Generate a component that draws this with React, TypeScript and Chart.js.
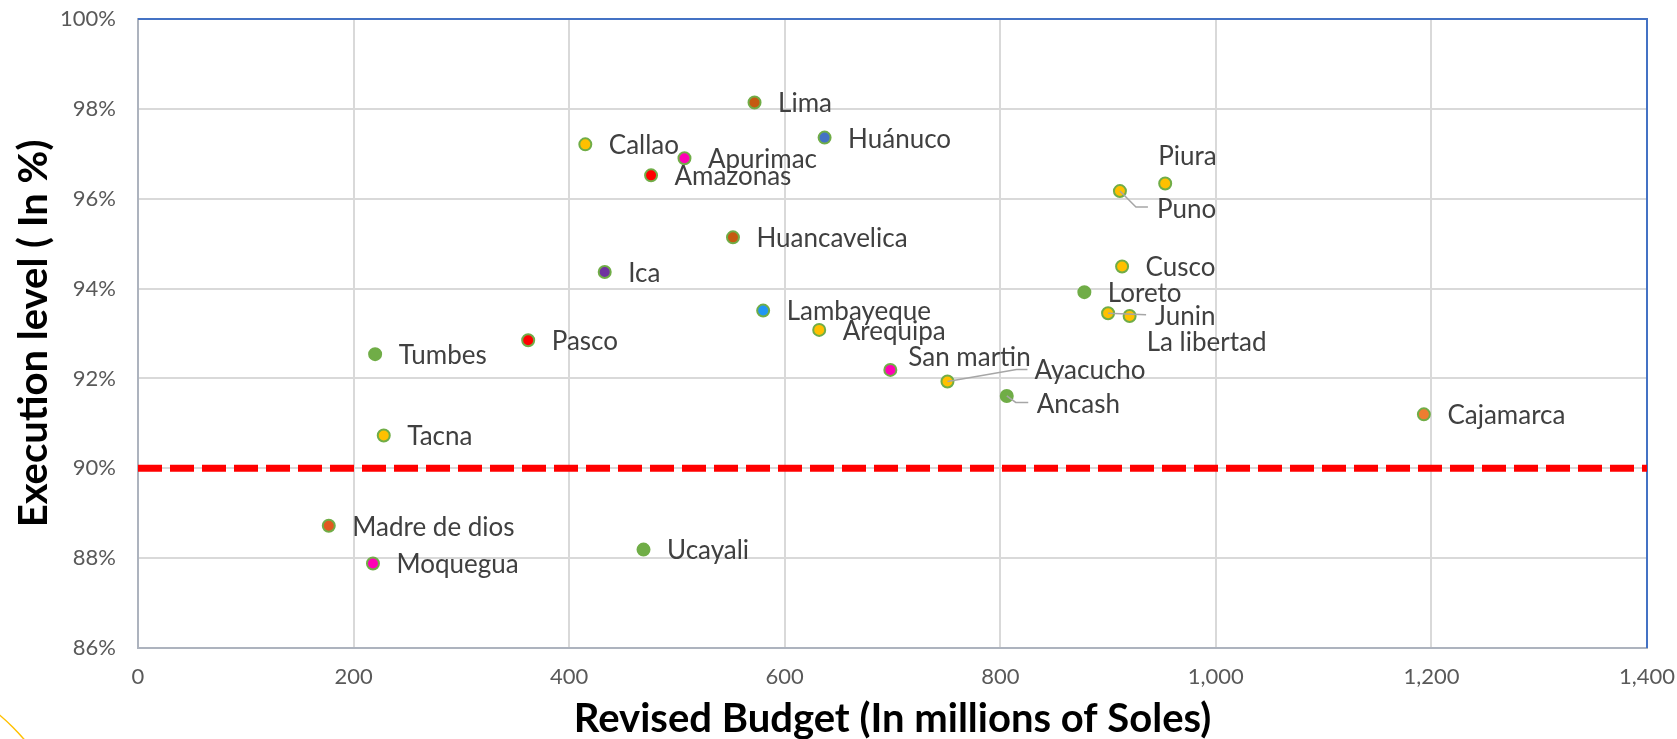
import React, { useEffect, useRef } from 'react';
import { Chart, registerables } from 'chart.js';

Chart.register(...registerables);

// ---------- data ----------
const regions = [
  'Lima', 'Callao', 'Apurimac', 'Amazonas', 'Huánuco', 'Huancavelica', 'Ica',
  'Lambayeque', 'Arequipa', 'San martin', 'Ayacucho', 'Ancash', 'Piura', 'Puno',
  'Cusco', 'Loreto', 'Junin', 'La libertad', 'Tumbes', 'Pasco', 'Tacna',
  'Madre de dios', 'Moquegua', 'Ucayali', 'Cajamarca',
];
const revisedBudget = [
  572, 415, 507, 476, 637, 552, 433,
  580, 632, 698, 751, 806, 953, 911,
  913, 878, 900, 920, 220, 362, 228,
  177, 218, 469, 1193,
];
const executionLevel = [
  98.14, 97.21, 96.9, 96.52, 97.36, 95.14, 94.37,
  93.51, 93.08, 92.19, 91.93, 91.61, 96.34, 96.17,
  94.49, 93.92, 93.45, 93.39, 92.54, 92.85, 90.73,
  88.72, 87.88, 88.19, 91.2,
];
const xTickValues = [0, 200, 400, 600, 800, 1000, 1200, 1400];
const yTickValues = [86, 88, 90, 92, 94, 96, 98, 100];
const thresholdLevel = 90;

// ---------- styles ----------
const YELLOW = '#FFC000';
const GREEN = '#70AD47';
const PINK = '#FF00B4';
const RED = '#FF0000';
const BROWN = '#C55A11';
const pointColors: Record<string, string> = {
  'Lima': BROWN, 'Callao': YELLOW, 'Apurimac': PINK, 'Amazonas': RED,
  'Huánuco': '#4472C4', 'Huancavelica': BROWN, 'Ica': '#7030A0',
  'Lambayeque': '#2196F3', 'Arequipa': YELLOW, 'San martin': PINK,
  'Ayacucho': YELLOW, 'Ancash': GREEN, 'Piura': YELLOW, 'Puno': YELLOW,
  'Cusco': YELLOW, 'Loreto': GREEN, 'Junin': YELLOW, 'La libertad': YELLOW,
  'Tumbes': GREEN, 'Pasco': RED, 'Tacna': YELLOW, 'Madre de dios': '#E2581F',
  'Moquegua': PINK, 'Ucayali': GREEN, 'Cajamarca': '#ED7D31',
};

type LabelPos = { dx: number; dy: number; leader?: [number, number][] };
const defaultLabel: LabelPos = { dx: 23.5, dy: 1.5 };
const labelPos: Record<string, LabelPos> = {
  'San martin': { dx: 18, dy: -12.5 },
  'Ayacucho': { dx: 87, dy: -11, leader: [[69, -12], [80, -12]] },
  'Ancash': { dx: 30, dy: 8.5, leader: [[9, 6.5], [21.5, 6.5]] },
  'Piura': { dx: -7, dy: -27 },
  'Puno': { dx: 37, dy: 18.5, leader: [[16, 16], [28, 16]] },
  'Junin': { dx: 47, dy: 3.5, leader: [[38, 1.5]] },
  'La libertad': { dx: 17, dy: 27 },
};

const FONT = 'Lato, "Noto Sans", sans-serif';

const labelPlugin = {
  id: 'pointLabels',
  beforeDatasetsDraw(chart: any) {
    const { ctx, chartArea } = chart;
    ctx.save();
    ctx.strokeStyle = '#4472C4';
    ctx.lineWidth = 2;
    ctx.beginPath();
    ctx.moveTo(chartArea.left, chartArea.top);
    ctx.lineTo(chartArea.right, chartArea.top);
    ctx.lineTo(chartArea.right, chartArea.bottom);
    ctx.stroke();
    ctx.restore();
  },
  afterDatasetsDraw(chart: any) {
    const { ctx } = chart;
    const meta = chart.getDatasetMeta(1);
    ctx.save();
    ctx.font = `26px ${FONT}`;
    ctx.fillStyle = '#404040';
    ctx.textAlign = 'left';
    ctx.textBaseline = 'middle';
    meta.data.forEach((el: any, i: number) => {
      const name = regions[i];
      const p = labelPos[name] || defaultLabel;
      if (p.leader) {
        ctx.strokeStyle = '#A6A6A6';
        ctx.lineWidth = 1.5;
        ctx.beginPath();
        ctx.moveTo(el.x, el.y);
        p.leader.forEach(([lx, ly]) => ctx.lineTo(el.x + lx, el.y + ly));
        ctx.stroke();
      }
      ctx.fillText(name, el.x + p.dx, el.y + p.dy);
    });
    ctx.restore();
  },
  afterDraw(chart: any) {
    const { ctx } = chart;
    ctx.save();
    ctx.strokeStyle = YELLOW;
    ctx.lineWidth = 1.5;
    ctx.beginPath();
    ctx.arc(-130, 870, 202, -Math.PI / 2, 0);
    ctx.stroke();
    ctx.restore();
  },
};

export default function App() {
  const canvasRef = useRef<HTMLCanvasElement>(null);

  useEffect(() => {
    document.body.style.margin = '0';
    const canvas = canvasRef.current;
    if (!canvas) return;
    const chart = new Chart(canvas, {
      type: 'scatter',
      data: {
        datasets: [
          {
            type: 'line',
            label: 'Threshold',
            data: [
              { x: xTickValues[0], y: thresholdLevel },
              { x: xTickValues[xTickValues.length - 1], y: thresholdLevel },
            ],
            borderColor: RED,
            borderWidth: 7,
            borderDash: [24, 8],
            pointRadius: 0,
            fill: false,
            order: 2,
            clip: 6,
          } as any,
          {
            label: 'Regions',
            data: regions.map((_, i) => ({ x: revisedBudget[i], y: executionLevel[i] })),
            backgroundColor: regions.map((r) => pointColors[r]),
            borderColor: GREEN,
            borderWidth: 2,
            pointRadius: 6,
            order: 1,
          },
        ],
      },
      options: {
        responsive: false,
        animation: false,
        devicePixelRatio: 1,
        layout: { padding: { top: 19, right: 30, left: 0, bottom: 0 } },
        plugins: { legend: { display: false }, tooltip: { enabled: false } },
        scales: {
          x: {
            type: 'linear',
            min: xTickValues[0],
            max: xTickValues[xTickValues.length - 1],
            afterBuildTicks: (s: any) => { s.ticks = xTickValues.map((v) => ({ value: v })); },
            afterFit: (s: any) => {
              s.height = 91;
              s.paddingLeft = 0; s.paddingRight = 0; s.paddingTop = 0; s.paddingBottom = 0;
            },
            ticks: {
              padding: 16,
              color: '#595959',
              font: { family: FONT, size: 22 },
              callback: (v: any) => Number(v).toLocaleString('en-US'),
            },
            grid: { color: '#D9D9D9', lineWidth: 2, drawTicks: false },
            border: { color: '#ADB3BE', width: 2 },
            title: {
              display: true,
              text: 'Revised Budget (In millions of Soles)',
              color: '#000000',
              font: { family: FONT, size: 40, weight: 'bold', lineHeight: 1 },
              padding: { top: 0, bottom: 0 },
            },
          },
          y: {
            type: 'linear',
            min: yTickValues[0],
            max: yTickValues[yTickValues.length - 1],
            afterBuildTicks: (s: any) => { s.ticks = yTickValues.map((v) => ({ value: v })); },
            afterFit: (s: any) => {
              s.width = 138;
              s.paddingLeft = 0; s.paddingRight = 0; s.paddingTop = 0; s.paddingBottom = 0;
            },
            ticks: {
              padding: 22,
              color: '#595959',
              font: { family: FONT, size: 22 },
              callback: (v: any) => `${v}%`,
            },
            grid: { color: '#D9D9D9', lineWidth: 2, drawTicks: false },
            border: { color: '#ADB3BE', width: 2 },
            title: {
              display: true,
              text: 'Execution level ( In %)',
              color: '#000000',
              font: { family: FONT, size: 40, weight: 'bold', lineHeight: 1 },
              padding: { top: 14, bottom: 0 },
            },
          },
        },
      },
      plugins: [labelPlugin],
    });
    return () => chart.destroy();
  }, []);

  return (
    <div style={{ width: 1677, height: 739, position: 'relative', background: '#fff' }}>
      <canvas ref={canvasRef} width={1677} height={739} style={{ display: 'block' }} />
    </div>
  );
}
